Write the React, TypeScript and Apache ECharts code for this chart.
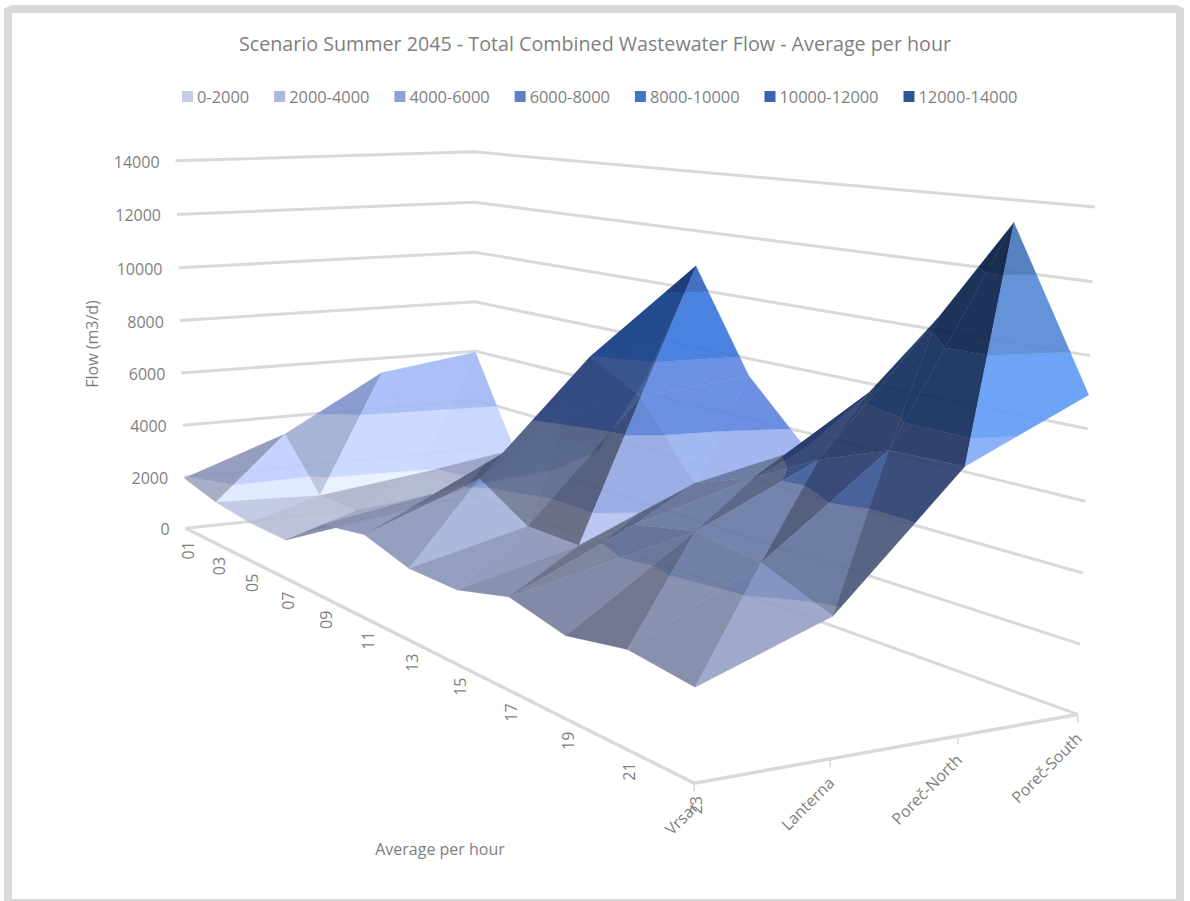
import React, { useEffect, useRef } from "react";
import * as echarts from "echarts";

const TITLE = "Scenario Summer 2045 - Total Combined Wastewater Flow - Average per hour";
const hours = ["01", "03", "05", "07", "09", "11", "13", "15", "17", "19", "21", "23"];
const regions = ["Vrsar", "Lanterna", "Poreč-North", "Poreč-South"];
const valueTicks = [0, 2000, 4000, 6000, 8000, 10000, 12000, 14000];
const bandNames = ["0-2000", "2000-4000", "4000-6000", "6000-8000", "8000-10000", "10000-12000", "12000-14000"];
const bandColors = ["#c5cde6", "#adb8de", "#8fa2d4", "#5f7fc8", "#4373c5", "#3b64ad", "#2f5597"];

const vrsar = [1950, 1580, 1400, 1370, 2500, 2760, 2300, 2290, 2760, 2350, 2710, 2490];
const lanterna = [3310, 1430, 1420, 1900, 3160, 4200, 3200, 3200, 4440, 4830, 4570, 3800];
const porecNorth = [5420, 1900, 1840, 2800, 5000, 7950, 7020, 4740, 5450, 6500, 7280, 7340];
const porecSouth = [5950, 2460, 2200, 3400, 6500, 10800, 7430, 5500, 7700, 10340, 13370, 8930];
const flows = [vrsar, lanterna, porecNorth, porecSouth];
const flippedQuads = ["8:0"];

const GREY = "#d9d9d9";
const TEXT = "#7f7f7f";
const FONT = "'Open Sans', sans-serif";
const ALPHA = 0.92;

// camera calibration: hour index, region index, flow/1000 -> page position
const camera: number[][] = [
  [0, 0, 0, 186, 528], [0, 0, 14, 173, 160], [0, 0, 8, 181, 320], [0, 0, 2, 185, 478],
  [0, 3, 14, 475, 152], [0, 3, 14, 475, 152], [0, 3, 8, 475, 303], [0, 3, 6, 475, 352], [0, 3, 4, 475, 401], [0, 3, 0, 475, 497],
  [11, 3, 0, 1079, 714], [11, 3, 0, 1079, 714], [11, 3, 14, 1095, 208], [11, 3, 14, 1095, 208], [11, 3, 14, 1095, 208],
  [11, 3, 8, 1087, 430], [11, 3, 8, 1087, 430], [11, 3, 2, 1081, 645],
  [11, 0, 0, 693, 783], [11, 1, 0, 830, 758], [11, 2, 0, 958, 738], [7, 0, 0, 458, 665], [3, 0, 0, 287, 579],
  [5, 3, 10.8, 698, 266], [6, 3, 7.43, 752, 372], [7, 3, 5.5, 800, 443], [10, 3, 13.37, 1014, 222],
];

function solve(A: number[][], b: number[]) {
  const n = b.length;
  const M = A.map((r, i) => [...r, b[i]]);
  for (let i = 0; i < n; i++) {
    let p = i;
    for (let k = i; k < n; k++) if (Math.abs(M[k][i]) > Math.abs(M[p][i])) p = k;
    [M[i], M[p]] = [M[p], M[i]];
    for (let k = 0; k < n; k++) {
      if (k !== i) {
        const f = M[k][i] / M[i][i];
        for (let j = i; j <= n; j++) M[k][j] -= f * M[i][j];
      }
    }
  }
  return M.map((r, i) => r[n] / r[i]);
}
function fit() {
  const R: number[][] = [], Y: number[] = [];
  for (const [u, v, z, x, y] of camera) {
    R.push([u, v, z, 1, 0, 0, 0, 0, -x * u, -x * v, -x * z]); Y.push(x);
    R.push([0, 0, 0, 0, u, v, z, 1, -y * u, -y * v, -y * z]); Y.push(y);
  }
  const N = 11;
  const A = Array.from({ length: N }, (_, i) => Array.from({ length: N }, (_, j) => R.reduce((s, r) => s + r[i] * r[j], 0)));
  const b = Array.from({ length: N }, (_, i) => R.reduce((s, r, k) => s + r[i] * Y[k], 0));
  return solve(A, b);
}
const P = fit();
const depth = (u: number, v: number, z: number) => P[8] * u + P[9] * v + P[10] * z + 1;
const proj = (u: number, v: number, z: number) => {
  const w = depth(u, v, z);
  return [(P[0] * u + P[1] * v + P[2] * z + P[3]) / w, (P[4] * u + P[5] * v + P[6] * z + P[7]) / w];
};

type V = number[]; // [u, v, z]
function clipZ(poly: V[], level: number, keepAbove: boolean): V[] {
  const out: V[] = [];
  for (let i = 0; i < poly.length; i++) {
    const a = poly[i], b = poly[(i + 1) % poly.length];
    const ia = keepAbove ? a[2] >= level : a[2] <= level;
    const ib = keepAbove ? b[2] >= level : b[2] <= level;
    if (ia) out.push(a);
    if (ia !== ib) {
      const t = (level - a[2]) / (b[2] - a[2]);
      out.push([a[0] + t * (b[0] - a[0]), a[1] + t * (b[1] - a[1]), level]);
    }
  }
  return out;
}
const hex = (c: string) => [1, 3, 5].map((i) => parseInt(c.slice(i, i + 2), 16));
const SPEC = [33, 33, 20];
function shade(band: number, f: number, spec: number) {
  const rgb = hex(bandColors[band]).map((c, i) => {
    const target = Math.min(255, c * f + SPEC[i] * spec);
    return Math.max(0, Math.round((target - (1 - ALPHA) * 255) / ALPHA));
  });
  return `rgba(${rgb[0]},${rgb[1]},${rgb[2]},${ALPHA})`;
}
function lighting(du: number, dv: number) {
  const sx = -du * 0.3, sy = -dv * 0.3;
  const n = Math.sqrt(1 + sx * sx + sy * sy);
  const nx = sx / n, ny = sy / n;
  const f = Math.max(0.52, Math.min(1.14, 0.95 + 0.5 * nx + 0.3 * ny - 0.2 * ny * ny));
  const spec = Math.max(0, Math.min(1, (nx - 0.71) / 0.05));
  return { f, spec };
}

type Tri = { pieces: { pts: V[]; band: number }[]; f: number; spec: number };
const tris: Tri[] = [];
const at = (u: number, s: number): V => [u, s, flows[s][u] / 1000];
function makeTri(a: V, b: V, c: V, du: number, dv: number): Tri & { d: number } {
  const pieces: { pts: V[]; band: number }[] = [];
  bandNames.forEach((_, k) => {
    const clipped = clipZ(clipZ([a, b, c], k * 2, true), (k + 1) * 2, false);
    if (clipped.length >= 3) pieces.push({ pts: clipped, band: k });
  });
  return { pieces, ...lighting(du, dv), d: depth((a[0] + b[0] + c[0]) / 3, (a[1] + b[1] + c[1]) / 3, (a[2] + b[2] + c[2]) / 3) };
}
for (let u = 0; u < hours.length - 1; u++) {
  for (let s = regions.length - 2; s >= 0; s--) {
    const p00 = at(u, s), p10 = at(u + 1, s), p01 = at(u, s + 1), p11 = at(u + 1, s + 1);
    const flip = flippedQuads.includes(`${u}:${s}`);
    const t1 = flip
      ? makeTri(p00, p10, p11, p10[2] - p00[2], p11[2] - p10[2])
      : makeTri(p00, p10, p01, p10[2] - p00[2], p01[2] - p00[2]);
    const t2 = flip
      ? makeTri(p00, p11, p01, p11[2] - p01[2], p01[2] - p00[2])
      : makeTri(p10, p11, p01, p11[2] - p01[2], p11[2] - p10[2]);
    if (t1.d > t2.d) tris.push(t1, t2); else tris.push(t2, t1);
  }
}

const U = hours.length - 1, S = regions.length - 1;

export default function App() {
  const ref = useRef<HTMLDivElement>(null);
  useEffect(() => {
    const chart = echarts.init(ref.current!, null, { renderer: "svg" });
    const toPts = (api: any, pts: number[][]) => pts.map((p) => api.coord(p));
    const lineEl = (api: any, pts: number[][], width: number) => ({
      type: "polyline", shape: { points: toPts(api, pts) },
      style: { stroke: GREY, lineWidth: width, fill: "none" }, silent: true,
    });
    const textStyle = (text: string, align: string) => ({
      text, fill: TEXT, fontFamily: FONT, fontSize: 16, align, verticalAlign: "middle",
    });
    chart.setOption({
      animation: false,
      backgroundColor: "#ffffff",
      title: {
        text: TITLE, left: "center", top: 28,
        textStyle: { color: TEXT, fontFamily: FONT, fontSize: 19.7, fontWeight: "normal" },
      },
      legend: {
        left: 177, top: 83.5, itemWidth: 11, itemHeight: 11, itemGap: 25, icon: "rect",
        data: bandNames,
        textStyle: { color: TEXT, fontFamily: FONT, fontSize: 16.4, padding: [0, 0, 0, -1] },
      },
      grid: { left: 0, right: 0, top: 0, bottom: 0, show: false },
      xAxis: { type: "value", min: 0, max: 1190, show: false },
      yAxis: { type: "value", min: 0, max: 901, inverse: true, show: false },
      graphic: [
        { type: "polyline", shape: { points: [[8, 901], [8, 11], [12, 9], [1176, 9], [1180, 11], [1180, 901]] }, style: { stroke: GREY, lineWidth: 8, fill: "none" }, silent: true },
        { type: "line", shape: { x1: 12, y1: 900, x2: 1176, y2: 900 }, style: { stroke: GREY, lineWidth: 2 }, silent: true },
        { type: "text", x: 440, y: 849, style: textStyle("Average per hour", "center") },
        { type: "text", x: 92, y: 344, rotation: Math.PI / 2, originX: 0, originY: 0, style: textStyle("Flow (m3/d)", "center") },
      ],
      series: [
        {
          type: "custom", name: "walls", coordinateSystem: "cartesian2d", clip: false, silent: true, z: 1,
          data: valueTicks.map((t) => [t]),
          renderItem: (_: any, api: any) => {
            const z = api.value(0) / 1000;
            return lineEl(api, [proj(0, 0, z), proj(0, S, z), proj(U, S, z)], 3);
          },
        },
        {
          type: "custom", name: "floor", coordinateSystem: "cartesian2d", clip: false, silent: true, z: 1,
          data: [[0]],
          renderItem: (_: any, api: any) => lineEl(api, [proj(0, 0, 0), proj(U, 0, 0), proj(U, S, 0)], 3.5),
        },
        {
          type: "custom", name: "region ticks", coordinateSystem: "cartesian2d", clip: false, silent: true, z: 1,
          data: regions.map((_, i) => [i]),
          renderItem: (_: any, api: any) => {
            const p = api.coord(proj(U, api.value(0), 0));
            return { type: "line", shape: { x1: p[0], y1: p[1], x2: p[0], y2: p[1] + 8 }, style: { stroke: GREY, lineWidth: 1.5 } };
          },
        },
        {
          type: "custom", name: "surface", coordinateSystem: "cartesian2d", clip: false, silent: true, z: 2,
          data: tris.map((_, i) => [i]),
          renderItem: (_: any, api: any) => {
            const t = tris[api.value(0)];
            return {
              type: "group",
              children: t.pieces.map((pc) => {
                const fill = shade(pc.band, t.f, t.spec);
                return {
                  type: "polygon",
                  shape: { points: toPts(api, pc.pts.map((q) => proj(q[0], q[1], q[2]))) },
                  style: { fill, stroke: fill, lineWidth: 0.25 },
                };
              }),
            };
          },
        },
        {
          type: "custom", name: "value labels", coordinateSystem: "cartesian2d", clip: false, silent: true, z: 3,
          data: valueTicks.map((t) => [t]),
          renderItem: (_: any, api: any) => {
            const v = api.value(0);
            const p = api.coord(proj(0, 0, v / 1000));
            return { type: "text", x: p[0] - 16, y: p[1] + 1, style: textStyle(String(v), "right") };
          },
        },
        {
          type: "custom", name: "hour labels", coordinateSystem: "cartesian2d", clip: false, silent: true, z: 3,
          data: hours.map((_, i) => [i]),
          renderItem: (_: any, api: any) => {
            const i = api.value(0);
            const p = api.coord(proj(i, 0, 0));
            return { type: "text", x: p[0] + 2, y: p[1] + 22, rotation: Math.PI / 2, style: textStyle(hours[i], "center") };
          },
        },
        {
          type: "custom", name: "region labels", coordinateSystem: "cartesian2d", clip: false, silent: true, z: 3,
          data: regions.map((_, i) => [i]),
          renderItem: (_: any, api: any) => {
            const i = api.value(0);
            const p = api.coord(proj(U, i, 0));
            return { type: "text", x: p[0] + 1, y: p[1] + 21, rotation: Math.PI / 4, style: textStyle(regions[i], "right") };
          },
        },
        ...bandNames.map((name, i) => ({
          type: "custom", name, coordinateSystem: "cartesian2d", data: [],
          itemStyle: { color: bandColors[i] }, renderItem: () => null,
        })),
      ],
    });
    return () => chart.dispose();
  }, []);
  return <div ref={ref} style={{ position: "absolute", left: 0, top: 0, width: 1190, height: 901 }} />;
}
